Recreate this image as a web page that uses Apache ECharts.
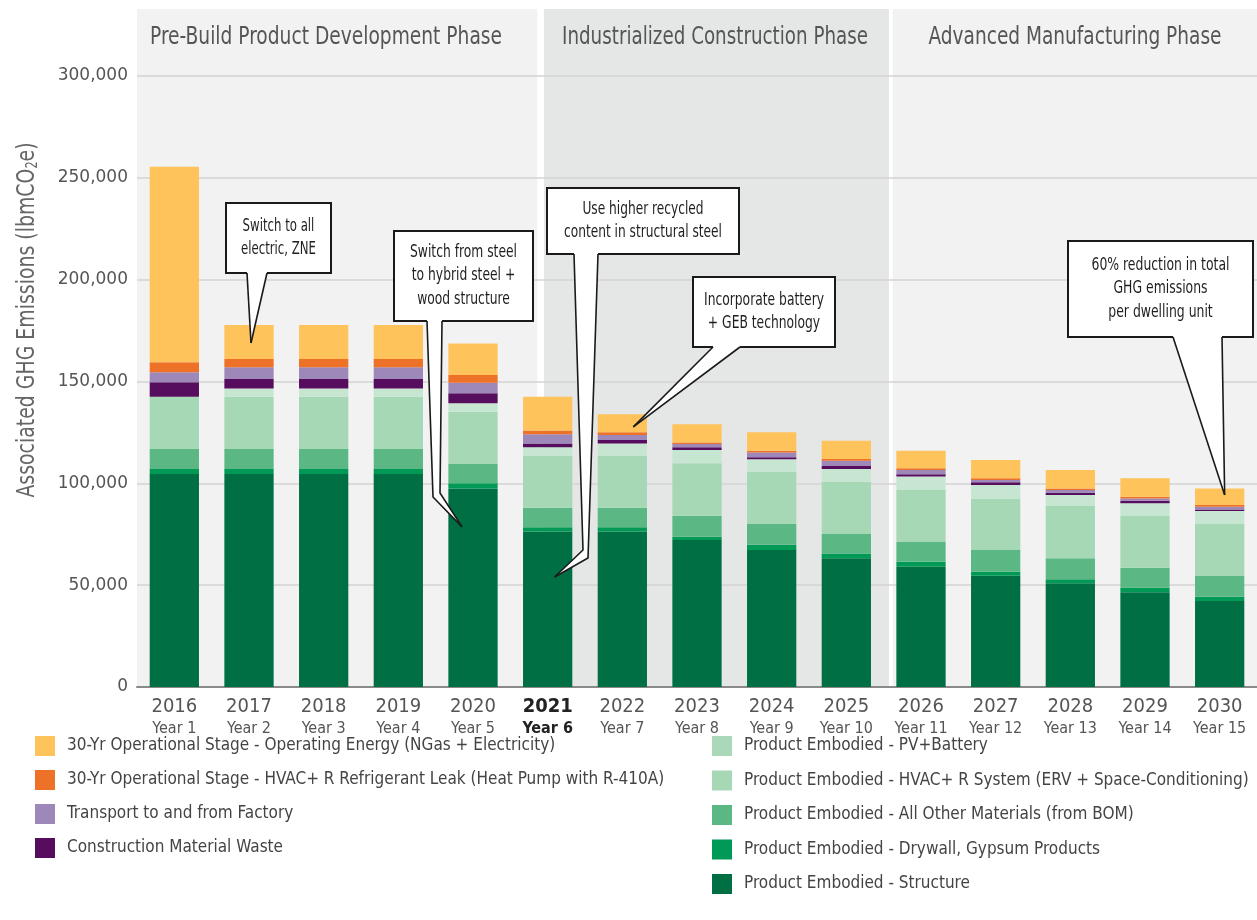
<!DOCTYPE html>
<html><head><meta charset="utf-8">
<script src="https://cdn.jsdelivr.net/npm/echarts@6/dist/echarts.min.js"></script>
<style>html,body{margin:0;padding:0;background:#fff}#c{width:1257px;height:920px}</style>
</head><body><div id="c"></div>
<script>
// ---- data ----
const years = ['2016','2017','2018','2019','2020','2021','2022','2023','2024','2025','2026','2027','2028','2029','2030'];
const yearLabels = ['Year 1','Year 2','Year 3','Year 4','Year 5','Year 6','Year 7','Year 8','Year 9','Year 10','Year 11','Year 12','Year 13','Year 14','Year 15'];
const highlightYear = '2021';
const structure = [104600,104600,104600,104600,97500,76300,76300,72200,67300,63200,59100,54600,50900,46500,42200];
const drywall   = [2400,2400,2400,2400,2500,2100,2100,1600,2600,2400,2400,2000,2000,2300,2100];
const otherMat  = [9900,9900,9900,9900,9500,9600,9600,10300,10100,9500,9700,10700,10300,9800,10200];
const hvacSys   = [25600,25600,25600,25600,25700,25400,25400,25700,25700,25700,25500,25300,25700,25400,25500];
const pvBattery = [0,4100,4100,4100,4100,4300,6200,6600,6100,6200,6600,6600,5400,6200,6400];
const waste     = [7100,4600,4600,4600,4900,1900,1700,1300,1000,1500,1100,1300,1100,1300,800];
const transport = [4900,5800,5800,5800,5200,4500,2400,1600,2300,2600,2100,1100,1300,1100,1300];
const refrig    = [4900,4000,4000,4000,3800,1800,1400,800,900,800,900,900,800,800,900];
const operating = [96100,16700,16700,16700,15500,16600,8800,8900,9100,9000,8600,9000,9000,9100,8100];
const yTicks = [0,50000,100000,150000,200000,250000,300000];

const names = {
  op:'30-Yr Operational Stage - Operating Energy (NGas + Electricity)',
  rf:'30-Yr Operational Stage - HVAC+ R Refrigerant Leak (Heat Pump with R-410A)',
  tr:'Transport to and from Factory',
  ws:'Construction Material Waste',
  pv:'Product Embodied - PV+Battery',
  hv:'Product Embodied - HVAC+ R System (ERV + Space-Conditioning)',
  om:'Product Embodied - All Other Materials (from BOM)',
  dw:'Product Embodied - Drywall, Gypsum Products',
  st:'Product Embodied - Structure'
};
const phaseNames = ['Pre-Build Product Development Phase','Industrialized Construction Phase','Advanced Manufacturing Phase'];
const yTitle = 'Associated GHG Emissions (lbmCO{s|2}e)';
const calloutTexts = [
  'Switch to all\nelectric, ZNE',
  'Switch from steel\nto hybrid steel +\nwood structure',
  'Use higher recycled\ncontent in structural steel',
  'Incorporate battery\n+ GEB technology',
  '60% reduction in total\nGHG emissions\nper dwelling unit'
];
const calloutTargets = [['2017',168900],['2020',78600],['2021',54000],['2022',127700],['2030',94300]];

// ---- style / layout ----
const FAM = "'DejaVu Sans Condensed','Liberation Sans Narrow','Liberation Sans',sans-serif";
const colors = {op:'#fec35a',rf:'#ee7128',tr:'#9e87b9',ws:'#560d5d',pv:'#c6e6d2',hv:'#a6d8b6',om:'#5bb784',dw:'#009955',st:'#006f44'};
const phaseLayout = [{a:-0.5,b:4.86,fill:'#f2f2f2',cx:326,w:352},{a:4.95,b:9.57,fill:'#e5e7e6',cx:715,w:306},{a:9.62,b:14.6,fill:'#f2f2f2',cx:1075,w:293}];
const calloutLayout = [
  {box:[226,203,105,70], base:[247,267], L:[], R:[], dx:2, w:75},
  {box:[394,231,139,90], base:[427,442], L:[[433,497]], R:[[440,493]], dx:-11, w:107},
  {box:[547,188,192,66], base:[574,598], L:[[583,550]], R:[[588,558]], dx:7, w:158},
  {box:[693,277,142,70], base:[713,740], L:[], R:[], dx:11, w:120},
  {box:[1068,241,185,96], base:[1173,1222], L:[], R:[], dx:5, w:138}
];
const ctx = document.createElement('canvas').getContext('2d');
function widthAt(text, size){ ctx.font = size + 'px ' + FAM; return ctx.measureText(text).width; }

const chart = echarts.init(document.getElementById('c'), null, {renderer:'canvas'});
function mk(key, data){
  return {name:names[key], type:'bar', stack:'t', data:data, barWidth:'66%',
    itemStyle:{color:colors[key]}, emphasis:{disabled:true}};
}
const fmt = v => String(v).replace(/\B(?=(\d{3})+(?!\d))/g, ',');
const legText = {fontFamily:FAM, fontSize:17, color:'#444', padding:[0,0,0,7]};
const option = {
  animation:false,
  backgroundColor:'#fff',
  grid:{left:137, right:0, top:76, bottom:233, containLabel:false},
  legend:[
    {orient:'vertical', left:35, top:736, itemWidth:20, itemHeight:20, itemGap:14, icon:'rect', padding:0,
     data:[names.op,names.rf,names.tr,names.ws], textStyle:legText},
    {orient:'vertical', left:712, top:736, itemWidth:20, itemHeight:20, itemGap:14.5, icon:'rect', padding:0,
     data:[{name:names.pv, itemStyle:{color:'#a9d9b8'}},names.hv,names.om,names.dw,names.st], textStyle:legText}
  ],
  xAxis:{type:'category', data:years,
    axisLine:{lineStyle:{color:'#8a8a8a', width:2}}, axisTick:{show:false},
    axisLabel:{interval:0, margin:9,
      formatter:(v,i)=> v===highlightYear ? `{yb|${v}}\n{nb|${yearLabels[i]}}` : `{y|${v}}\n{n|${yearLabels[i]}}`,
      rich:{
        y:{fontFamily:FAM, fontSize:20, color:'#555', lineHeight:22},
        n:{fontFamily:FAM, fontSize:16, color:'#555', lineHeight:21},
        yb:{fontFamily:FAM, fontSize:20, color:'#222', fontWeight:'bold', lineHeight:22},
        nb:{fontFamily:FAM, fontSize:16, color:'#222', fontWeight:'bold', lineHeight:21}
      }}},
  yAxis:{type:'value', min:yTicks[0], max:yTicks[yTicks.length-1], interval:yTicks[1]-yTicks[0],
    axisLine:{show:false}, axisTick:{show:false},
    splitLine:{lineStyle:{color:'#d3d3d3', width:1.5}},
    axisLabel:{margin:9, formatter:fmt, fontFamily:'DejaVu Sans', fontSize:17, color:'#555'}},
  series:[mk('st',structure),mk('dw',drywall),mk('om',otherMat),mk('hv',hvacSys),mk('pv',pvBattery),
          mk('ws',waste),mk('tr',transport),mk('rf',refrig),mk('op',operating)]
};
chart.setOption(option);

// decorations computed through the chart's own scales
const c0 = chart.convertToPixel({xAxisIndex:0}, years[0]);
const band = chart.convertToPixel({xAxisIndex:0}, years[1]) - c0;
const yBottom = chart.convertToPixel({yAxisIndex:0}, 0);
const gfx = [];
phaseLayout.forEach((p,i)=>{
  const x1 = c0 + p.a*band, x2 = Math.min(1257, c0 + p.b*band);
  gfx.push({type:'rect', z:-10, shape:{x:x1, y:9, width:x2-x1, height:yBottom-9}, style:{fill:p.fill}});
  const sx = p.w / widthAt(phaseNames[i], 24);
  gfx.push({type:'text', z:-9, x:p.cx, y:38, scaleX:sx,
    style:{text:phaseNames[i], textAlign:'center', textVerticalAlign:'middle', fill:'#555', font:`24px ${FAM}`}});
});
{
  const plain = yTitle.replace(/\{s\|(.*?)\}/,'$1');
  const sx = 360 / widthAt(plain, 25);
  gfx.push({type:'text', z:5, x:27, y:320, rotation:Math.PI/2, scaleX:sx,
    style:{text:yTitle, textAlign:'center', textVerticalAlign:'middle',
      fill:'#666', font:`25px ${FAM}`, rich:{s:{fontSize:15, fill:'#666', fontFamily:FAM, verticalAlign:'bottom', padding:[12,0,0,0]}}}});
}
calloutLayout.forEach((c,i)=>{
  const [bx,by,bw,bh] = c.box;
  const tp = chart.convertToPixel({xAxisIndex:0, yAxisIndex:0}, calloutTargets[i]);
  const tip = [tp[0]+c.dx, tp[1]];
  const yb = by+bh;
  const left = [[c.base[0], yb]].concat(c.L, [tip]);
  const right = [[c.base[1], yb]].concat(c.R, [tip]);
  gfx.push({type:'rect', z:100, shape:{x:bx,y:by,width:bw,height:bh}, style:{fill:'#fff', stroke:'#1a1a1a', lineWidth:2}});
  const poly = [[c.base[0], yb-2]].concat(left, right.slice(0,-1).reverse(), [[c.base[1], yb-2]]);
  gfx.push({type:'polygon', z:101, shape:{points:poly}, style:{fill:'#fff'}});
  gfx.push({type:'polyline', z:102, shape:{points:left}, style:{stroke:'#1a1a1a', lineWidth:1.6, fill:null}});
  gfx.push({type:'polyline', z:102, shape:{points:right}, style:{stroke:'#1a1a1a', lineWidth:1.6, fill:null}});
  const lines = calloutTexts[i].split('\n');
  const widest = Math.max(...lines.map(l=>widthAt(l,17)));
  gfx.push({type:'text', z:103, x:bx+bw/2, y:by+bh/2, scaleX:c.w/widest,
    style:{text:calloutTexts[i], textAlign:'center', textVerticalAlign:'middle', fill:'#1e1e1e',
      font:`17px ${FAM}`, lineHeight:23.5}});
});
chart.setOption({graphic:gfx});
</script></body></html>
